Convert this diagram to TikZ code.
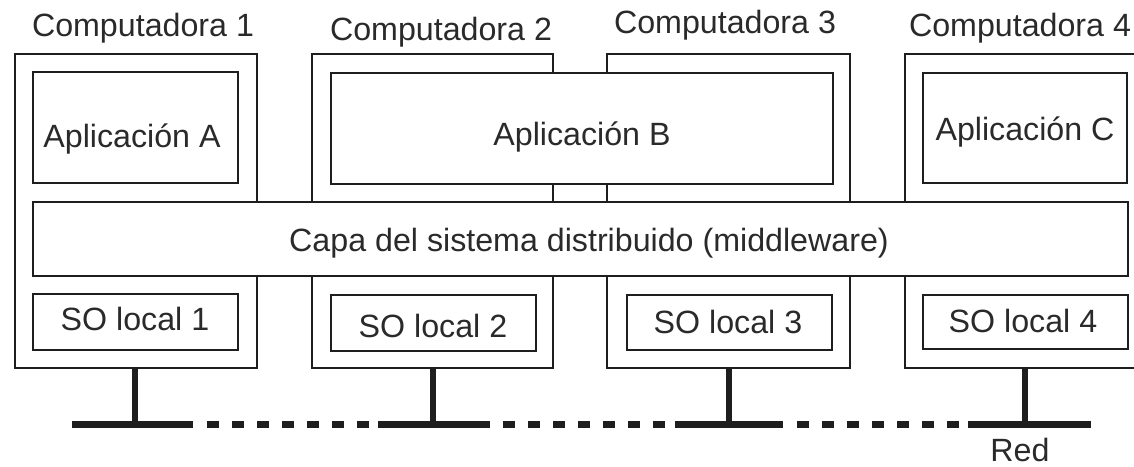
\documentclass[tikz,border=0pt]{standalone}
\usepackage{fontspec}
\setmainfont{Liberation Sans}
\definecolor{ink}{HTML}{1E1E1E}
\definecolor{txt}{HTML}{2A2A2A}
\begin{document}
\begin{tikzpicture}[x=1pt,y=-1pt,
  compbox/.style={draw=ink, line width=2.6pt, fill=white, inner sep=0pt, outer sep=0pt},
  layerbox/.style={draw=ink, line width=1.8pt, fill=white, inner sep=0pt, outer sep=0pt},
  lbl/.style={font=\fontsize{32.2}{36}\selectfont, text=txt, inner sep=0pt},
  stem/.style={draw=ink, line width=6pt},
  wire/.style={draw=ink, line width=7pt},
  dotwire/.style={wire, dash pattern=on 12pt off 13pt}]
\useasboundingbox (0,0) rectangle (1134,466);
\clip (0,0) rectangle (1134,466);

% computers
\node[compbox, minimum width=242pt, minimum height=314pt] (c1) at (136,211) {};
\node[compbox, minimum width=241pt, minimum height=314pt] (c2) at (432.5,211) {};
\node[compbox, minimum width=243pt, minimum height=314pt] (c3) at (728.5,211) {};
\node[compbox, minimum width=255pt, minimum height=314pt] (c4) at (1032.5,211) {};

\node[lbl, anchor=base] (t1) at (143,36) {Computadora 1};
\node[lbl, anchor=base] (t2) at (441,40) {Computadora 2};
\node[lbl, anchor=base] (t3) at (725,33) {Computadora 3};
\node[lbl, anchor=base] (t4) at (1020,36) {Computadora 4};

% applications
\node[layerbox, minimum width=205pt, minimum height=111pt] (appA) at (135.5,127.5) {};
\node[layerbox, minimum width=502pt, minimum height=111pt] (appB) at (582,128.5) {};
\node[layerbox, minimum width=204pt, minimum height=110pt] (appC) at (1025,128) {};
\node[lbl, anchor=base] (appAt) at (132,147) {Aplicación A};
\node[lbl, anchor=base] (appBt) at (582,145) {Aplicación B};
\node[lbl, anchor=base] (appCt) at (1025,140) {Aplicación C};

% middleware layer
\node[layerbox, minimum width=1095pt, minimum height=74pt] (mw) at (580.5,239) {};
\node[lbl, anchor=base] (mwt) at (589,251) {Capa del sistema distribuido (middleware)};

% local operating systems
\node[layerbox, minimum width=205pt, minimum height=56pt] (os1) at (135.5,322) {};
\node[layerbox, minimum width=205pt, minimum height=56pt] (os2) at (433.5,323) {};
\node[layerbox, minimum width=205pt, minimum height=55pt] (os3) at (729.5,322.5) {};
\node[layerbox, minimum width=205pt, minimum height=54pt] (os4) at (1025.5,322) {};
\node[lbl, anchor=base] (os1t) at (135,330) {SO local 1};
\node[lbl, anchor=base] (os2t) at (433,337) {SO local 2};
\node[lbl, anchor=base] (os3t) at (728,333) {SO local 3};
\node[lbl, anchor=base] (os4t) at (1023,332) {SO local 4};

% network
\coordinate (tap1) at (135,424);
\coordinate (tap2) at (433,424);
\coordinate (tap3) at (729,424);
\coordinate (tap4) at (1025,424);
\draw[stem] (tap1 |- c1.south) -- (tap1);
\draw[stem] (tap2 |- c2.south) -- (tap2);
\draw[stem] (tap3 |- c3.south) -- (tap3);
\draw[stem] (tap4 |- c4.south) -- (tap4);

\coordinate (w1a) at (72,424);   \coordinate (w1b) at (193,424);
\coordinate (w2a) at (378,424);  \coordinate (w2b) at (490,424);
\coordinate (w3a) at (675,424);  \coordinate (w3b) at (783,424);
\coordinate (w4a) at (968,424);  \coordinate (w4b) at (1091,424);
\coordinate (d1a) at (207,424);  \coordinate (d1b) at (369,424);
\coordinate (d2a) at (503,424);  \coordinate (d2b) at (665,424);
\coordinate (d3a) at (797,424);  \coordinate (d3b) at (984,424);
\draw[wire] (w1a) -- (w1b);
\draw[wire] (w2a) -- (w2b);
\draw[wire] (w3a) -- (w3b);
\draw[wire] (w4a) -- (w4b);
\draw[dotwire] (d1a) -- (d1b);
\draw[dotwire] (d2a) -- (d2b);
\draw[dotwire] (d3a) -- (d3b);

\node[lbl, anchor=base, text depth=0pt] (red) at (1020,461) {Red};
\end{tikzpicture}
\end{document}
